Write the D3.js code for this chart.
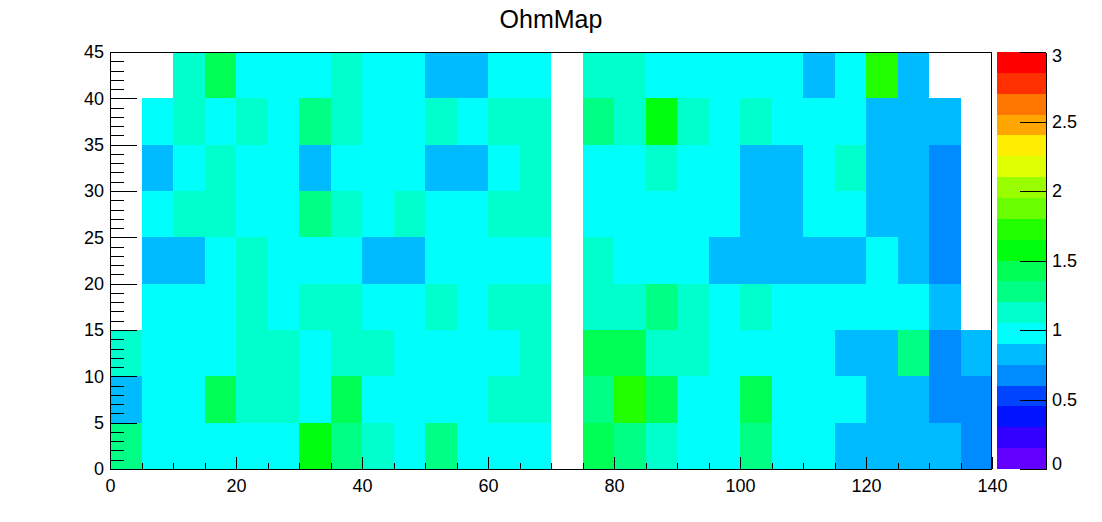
<!DOCTYPE html>
<html>
<head>
<meta charset="utf-8">
<script src="https://cdn.jsdelivr.net/npm/d3@7"></script>
<style>
  body { margin: 0; background: #fff; }
  text { font-family: "Liberation Sans", Arial, sans-serif; }
</style>
</head>
<body>
<div id="chart"></div>
<script>
// bins are 5 x 5, rows listed from y = 0 upward, null = empty bin
const binSize = 5;
const xTicks = [0, 20, 40, 60, 80, 100, 120, 140];
const yTicks = [0, 5, 10, 15, 20, 25, 30, 35, 40, 45];
const zTicks = [0, 0.5, 1, 1.5, 2, 2.5, 3];

const ohmRows = [
  [1.28,0.98,0.98,0.98,0.98,0.98,1.58,1.28,1.12,0.98,1.28,0.98,0.98,0.98,null,1.42,1.28,1.12,0.98,0.98,1.28,0.98,0.98,0.82,0.82,0.82,0.82,0.68],
  [0.82,0.98,0.98,1.42,1.12,1.12,0.98,1.42,0.98,0.98,0.98,0.98,1.12,1.12,null,1.28,1.72,1.42,0.98,0.98,1.42,0.98,0.98,0.98,0.82,0.82,0.68,0.68],
  [1.12,0.98,0.98,0.98,1.12,1.12,0.98,1.12,1.12,0.98,0.98,0.98,0.98,1.12,null,1.42,1.42,1.12,1.12,0.98,0.98,0.98,0.98,0.82,0.82,1.28,0.68,0.82],
  [null,0.98,0.98,0.98,1.12,0.98,1.12,1.12,0.98,0.98,1.12,0.98,1.12,1.12,null,1.12,1.12,1.28,1.12,0.98,1.12,0.98,0.98,0.98,0.98,0.98,0.82,null],
  [null,0.82,0.82,0.98,1.12,0.98,0.98,0.98,0.82,0.82,0.98,0.98,0.98,0.98,null,1.12,0.98,0.98,0.98,0.82,0.82,0.82,0.82,0.82,0.98,0.82,0.68,null],
  [null,0.98,1.12,1.12,0.98,0.98,1.28,1.12,0.98,1.12,0.98,0.98,1.12,1.12,null,0.98,0.98,0.98,0.98,0.98,0.82,0.82,0.98,0.98,0.82,0.82,0.68,null],
  [null,0.82,0.98,1.12,0.98,0.98,0.82,0.98,0.98,0.98,0.82,0.82,0.98,1.12,null,0.98,0.98,1.12,0.98,0.98,0.82,0.82,0.98,1.12,0.82,0.82,0.68,null],
  [null,0.98,1.12,0.98,1.12,0.98,1.28,1.12,0.98,0.98,1.12,0.98,1.12,1.12,null,1.28,1.12,1.58,1.12,0.98,1.12,0.98,0.98,0.98,0.82,0.82,0.82,null],
  [null,null,1.12,1.42,0.98,0.98,0.98,1.12,0.98,0.98,0.82,0.82,0.98,0.98,null,1.12,1.12,0.98,0.98,0.98,0.98,0.98,0.82,0.98,1.72,0.82,null,null]
];

// ROOT "pretty" palette, 20 contour levels
const palette = ["#6300ff","#3300ff","#0014ff","#0044ff","#008bff","#00bbff","#00fffc","#00ffcc","#00ff85","#00ff55",
                 "#00ff0e","#22ff00","#69ff00","#99ff00","#e0ff00","#ffee00","#ffa700","#ff7700","#ff3000","#ff0000"];

const W = 1102, H = 522;
const frame = { left: 110, right: 992, top: 52, bottom: 469 };

const svg = d3.select("#chart").append("svg")
  .attr("width", W)
  .attr("height", H)
  .style("display", "block");

svg.append("rect").attr("width", W).attr("height", H).attr("fill", "#fff");

const x = d3.scaleLinear().domain([0, 140]).range([frame.left, frame.right]);
const y = d3.scaleLinear().domain([0, 45]).range([frame.bottom, frame.top]);
const z = d3.scaleLinear().domain([0, 3]).range([frame.bottom, frame.top]);
const color = d3.scaleQuantize().domain([0, 3]).range(palette);

// flatten the rows into cells
const cells = [];
ohmRows.forEach((row, j) => {
  row.forEach((v, i) => {
    if (v !== null) cells.push({ x0: i * binSize, y0: j * binSize, v: v });
  });
});

svg.append("g")
  .selectAll("rect")
  .data(cells)
  .enter().append("rect")
  .attr("x", d => x(d.x0))
  .attr("y", d => y(d.y0 + binSize))
  .attr("width", d => x(d.x0 + binSize) - x(d.x0))
  .attr("height", d => y(d.y0) - y(d.y0 + binSize))
  .attr("fill", d => color(d.v))
  .attr("shape-rendering", "crispEdges");

// x axis, ticks pointing into the frame
const xMinor = d3.range(0, 141, 5);
svg.append("g")
  .attr("transform", `translate(0,${frame.bottom})`)
  .call(d3.axisBottom(x).tickValues(xMinor).tickSize(-6).tickFormat(""))
  .call(g => g.select(".domain").remove());
svg.append("g")
  .attr("class", "x-axis")
  .attr("transform", `translate(0,${frame.bottom})`)
  .call(d3.axisBottom(x).tickValues(xTicks).tickSize(-12).tickPadding(5))
  .call(g => g.select(".domain").remove());

// y axis
const yMinor = d3.range(0, 46, 1);
svg.append("g")
  .attr("transform", `translate(${frame.left},0)`)
  .call(d3.axisLeft(y).tickValues(yMinor).tickSize(-14).tickFormat(""))
  .call(g => g.select(".domain").remove());
svg.append("g")
  .attr("class", "y-axis")
  .attr("transform", `translate(${frame.left},0)`)
  .call(d3.axisLeft(y).tickValues(yTicks).tickSize(-27).tickPadding(6))
  .call(g => g.select(".domain").remove());

svg.selectAll(".x-axis text, .y-axis text")
  .attr("font-size", 18)
  .attr("font-family", "Liberation Sans, Arial, sans-serif")
  .attr("fill", "#000");
svg.selectAll(".x-axis text").attr("dy", "1.0em");
svg.selectAll("g.tick line").attr("stroke", "#000").attr("shape-rendering", "crispEdges");

// frame
svg.append("rect")
  .attr("x", frame.left + 0.5)
  .attr("y", frame.top + 0.5)
  .attr("width", frame.right - frame.left - 1)
  .attr("height", frame.bottom - frame.top)
  .attr("fill", "none")
  .attr("stroke", "#000")
  .attr("stroke-width", 1);

// colour bar
const barX = 997, barW = 49;
svg.append("g")
  .selectAll("rect")
  .data(palette)
  .enter().append("rect")
  .attr("x", barX)
  .attr("y", (c, k) => z((k + 1) * 0.15))
  .attr("width", barW)
  .attr("height", (c, k) => z(k * 0.15) - z((k + 1) * 0.15))
  .attr("fill", c => c)
  .attr("shape-rendering", "crispEdges");

const zAxis = svg.append("g")
  .attr("class", "z-axis")
  .attr("transform", `translate(${barX + barW},0)`)
  .call(d3.axisRight(z).tickValues(zTicks).tickSize(-26).tickSizeOuter(0).tickPadding(6)
    .tickFormat(d3.format("~g")));
zAxis.select(".domain").attr("stroke", "#000").attr("shape-rendering", "crispEdges");
zAxis.selectAll("line").attr("stroke", "#000").attr("shape-rendering", "crispEdges");
zAxis.selectAll("text")
  .attr("font-size", 18)
  .attr("font-family", "Liberation Sans, Arial, sans-serif")
  .attr("fill", "#000")
  .attr("dy", d => d === 3 ? "0.5em" : d === 0 ? "0.0em" : "0.32em");

// title
svg.append("text")
  .attr("x", W / 2)
  .attr("y", 28)
  .attr("text-anchor", "middle")
  .attr("font-size", 25)
  .attr("fill", "#000")
  .text("OhmMap");
</script>
</body>
</html>
